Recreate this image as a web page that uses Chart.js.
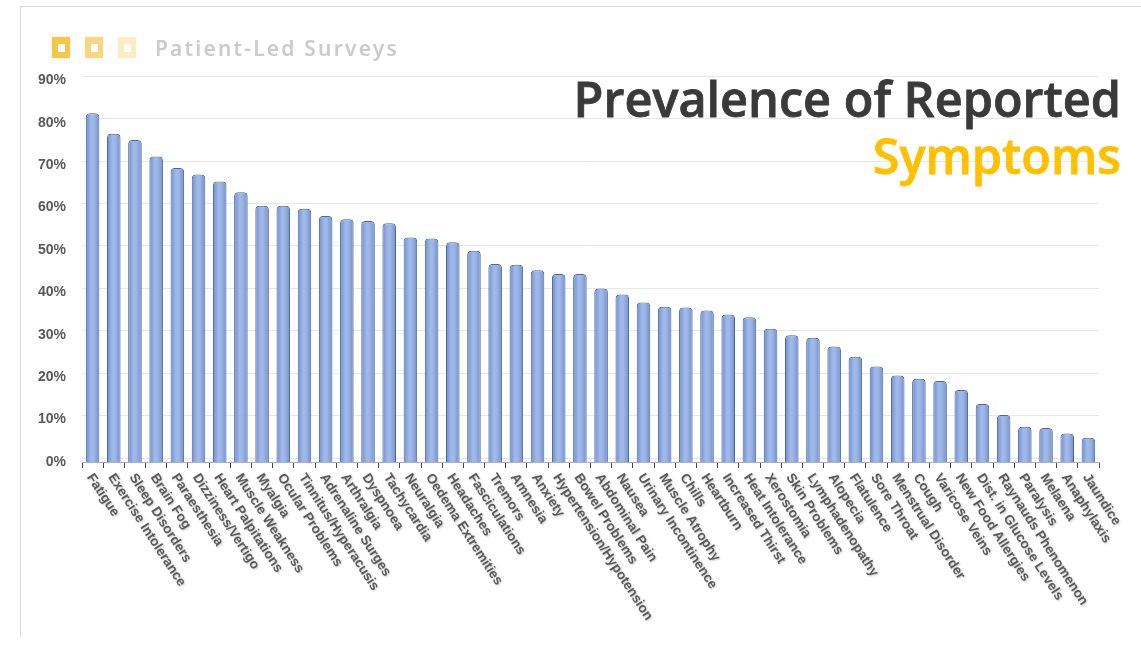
<!DOCTYPE html>
<html>
<head>
<meta charset="utf-8">
<script src="https://cdn.jsdelivr.net/npm/chart.js@4.4.1/dist/chart.umd.min.js"></script>
<style>
  html, body { margin: 0; padding: 0; background: #fff; }
  #wrap { position: relative; width: 1141px; height: 660px; overflow: hidden; background: #fff; }
  #frame { position: absolute; left: 20px; top: 6px; width: 1200px; height: 630px;
           border-top: 1px solid #d9d9d9; border-left: 1px solid #d9d9d9; }
  #chart { position: absolute; left: 0; top: 0; }
  .sq { position: absolute; top: 37px; width: 18px; height: 21px; }
  .sq i { position: absolute; left: 5.5px; top: 6.5px; width: 7px; height: 8px; background: #fff; }
  #brand { position: absolute; left: 155px; top: 38px; font: 600 21px 'Noto Sans', sans-serif;
           line-height: 21px; color: #cbcbcb; letter-spacing: 2.2px; white-space: nowrap; }
  .title { position: absolute; right: 20px; font: 600 48.6px 'Open Sans', sans-serif;
           line-height: 48px; white-space: nowrap; -webkit-text-stroke: 0.8px currentColor; }
</style>
</head>
<body>
<div id="wrap">
  <div id="frame"></div>
  <canvas id="chart" width="1141" height="660"></canvas>
  <div class="sq" style="left:52px;background:#f8c544"><i></i></div>
  <div class="sq" style="left:85px;background:#fad77f"><i></i></div>
  <div class="sq" style="left:118px;background:#fdecc4"><i></i></div>
  <div id="brand">Patient-Led Surveys</div>
  <div class="title" style="top:74px;color:#3a3a3a">Prevalence of Reported</div>
  <div class="title" style="top:131px;color:#ffc000">Symptoms</div>
</div>
<script>
// Symptom categories, ordered by prevalence
const categories = [
  'Fatigue', 'Exercise Intolerance', 'Sleep Disorders', 'Brain Fog', 'Paraesthesia',
  'Dizziness/Vertigo', 'Heart Palpitations', 'Muscle Weakness', 'Myalgia', 'Ocular Problems',
  'Tinnitus/Hyperacusis', 'Adrenaline Surges', 'Arthralgia', 'Dyspnoea', 'Tachycardia',
  'Neuralgia', 'Oedema Extremities', 'Headaches', 'Fasciculations', 'Tremors',
  'Amnesia', 'Anxiety', 'Hypertension/Hypotension', 'Bowel Problems', 'Abdominal Pain',
  'Nausea', 'Urinary Incontinence', 'Muscle Atrophy', 'Chills', 'Heartburn',
  'Increased Thirst', 'Heat Intolerance', 'Xerostomia', 'Skin Problems', 'Lymphadenopathy',
  'Alopecia', 'Flatulence', 'Sore Throat', 'Menstrual Disorder', 'Cough',
  'Varicose Veins', 'New Food Allergies', 'Dist. in Glucose Levels', 'Raynauds Phenomenon', 'Paralysis',
  'Melaena', 'Anaphylaxis', 'Jaundice'
];

// Share of respondents reporting each symptom (%)
const prevalence = [
  82.2, 77.4, 75.9, 72.0, 69.3,
  67.8, 66.1, 63.6, 60.4, 60.4,
  59.7, 58.0, 57.2, 56.8, 56.3,
  52.9, 52.7, 51.8, 49.8, 46.7,
  46.5, 45.2, 44.3, 44.3, 40.9,
  39.5, 37.6, 36.6, 36.4, 35.7,
  34.8, 34.1, 31.4, 29.9, 29.3,
  27.2, 24.8, 22.5, 20.4, 19.6,
  19.1, 17.0, 13.7, 11.1, 8.3,
  8.0, 6.7, 5.7
];

// Percentage ticks on the value axis
const tickValues = [0, 10, 20, 30, 40, 50, 60, 70, 80, 90];

const BAR_SHARE = 0.64;

// Cylinder-like shading across each column
function barFill(c) {
  const xs = c.chart.scales.x;
  if (!xs || c.dataIndex === undefined) return '#8eaadb';
  const cx = xs.getPixelForValue(c.dataIndex);
  const hw = (xs.width / categories.length) * BAR_SHARE / 2;
  if (!isFinite(cx) || !isFinite(hw) || hw <= 0) return '#8eaadb';
  const g = c.chart.ctx.createLinearGradient(cx - hw, 0, cx + hw, 0);
  g.addColorStop(0, '#6f8ecb');
  g.addColorStop(0.4, '#a1b9ea');
  g.addColorStop(0.6, '#9db6e8');
  g.addColorStop(1, '#7290c9');
  return g;
}

// Category names drawn slanting down to the right from each column
const slantedLabels = {
  id: 'slantedLabels',
  afterDraw(chart) {
    const { ctx, scales: { x } } = chart;
    ctx.save();
    ctx.font = 'bold 13.5px "Liberation Sans", Arial, sans-serif';
    ctx.fillStyle = '#595959';
    ctx.textAlign = 'left';
    ctx.textBaseline = 'alphabetic';
    ctx.shadowColor = 'rgba(0,0,0,0.22)';
    ctx.shadowBlur = 2;
    ctx.shadowOffsetX = 1;
    ctx.shadowOffsetY = 1;
    categories.forEach((name, i) => {
      const px = x.getPixelForValue(i);
      ctx.save();
      ctx.translate(px - 6, 477);
      ctx.rotate(57 * Math.PI / 180);
      ctx.fillText(name, 0, 0);
      ctx.restore();
    });
    ctx.restore();
  }
};

const setTicks = s => { s.ticks = tickValues.map(v => ({ value: v })); };

new Chart(document.getElementById('chart'), {
  type: 'bar',
  data: {
    labels: categories,
    datasets: [{
      data: prevalence,
      backgroundColor: barFill,
      borderColor: '#4a6797',
      borderWidth: 1,
      borderRadius: { topLeft: 4, topRight: 4 },
      borderSkipped: 'bottom',
      barPercentage: BAR_SHARE,
      categoryPercentage: 1
    }]
  },
  options: {
    responsive: false,
    animation: false,
    layout: { padding: { left: 20, right: 42, top: 76, bottom: 0 } },
    plugins: { legend: { display: false }, tooltip: { enabled: false } },
    scales: {
      x: {
        grid: { display: true, drawOnChartArea: false, color: '#34497a', tickLength: 6, offset: true },
        border: { display: true, color: '#a3b0c6' },
        ticks: { display: false },
        afterFit(s) { s.height = 198; }
      },
      y: {
        min: 0,
        max: 91,
        grid: { display: false, drawTicks: false },
        border: { display: false },
        ticks: {
          padding: 16,
          color: '#595959',
          font: { family: '"Liberation Sans", Arial, sans-serif', weight: 'bold', size: 14 },
          callback: v => v + '%'
        },
        afterBuildTicks: setTicks,
        afterFit(s) { s.width = 62; }
      },
      yGrid: {
        axis: 'y',
        position: 'left',
        min: -0.94,
        max: 90.06,
        grid: { color: '#e8e8e8', drawTicks: false },
        border: { display: false },
        ticks: { display: false },
        afterBuildTicks: setTicks,
        afterFit(s) { s.width = 0; }
      }
    }
  },
  plugins: [slantedLabels]
});
</script>
</body>
</html>
